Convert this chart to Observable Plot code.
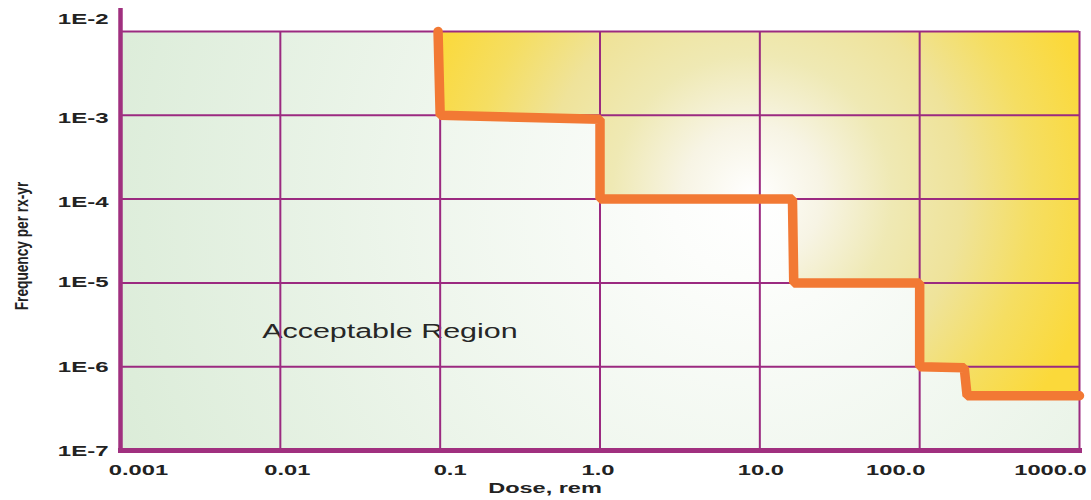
<!DOCTYPE html>
<html>
<head>
<meta charset="utf-8">
<script src="https://cdn.jsdelivr.net/npm/d3@7"></script>
<script src="https://cdn.jsdelivr.net/npm/@observablehq/plot@0.6"></script>
<style>
  html, body { margin: 0; padding: 0; background: #ffffff; }
  #chart svg { display: block; }
</style>
</head>
<body>
<div id="chart"></div>
<script>
// ---- data ----
const xTicks = [0.001, 0.01, 0.1, 1, 10, 100, 1000];
const xTickLabels = ["0.001", "0.01", "0.1", "1.0", "10.0", "100.0", "1000.0"];
const yTicks = [1e-2, 1e-3, 1e-4, 1e-5, 1e-6, 1e-7];
const yTickLabels = ["1E-2", "1E-3", "1E-4", "1E-5", "1E-6", "1E-7"];
const limitDose = [0.097, 0.1, 1.0, 1.0, 16, 16.3, 100, 100, 190, 198, 1000];
const limitFreq = [1e-2, 1e-3, 0.9e-3, 1e-4, 1e-4, 1e-5, 1e-5, 1e-6, 0.97e-6, 4.5e-7, 4.5e-7];
const regionLabels = ["Acceptable Region"];
const regionLabelDose = [0.0077];
const regionLabelFreq = [2.6e-6];
const xTitle = "Dose, rem";
const yTitle = "Frequency per rx-yr";

// ---- style ----
const purple = "#9b2a80";
const axisPurple = "#a0307f";
const orange = "#f27934";
const ink = "#222222";
const xLabelNudge = [18, 7, 10, -2, 1, -24, -29];
const yLabelNudge = [-12, 3, 3, -1, 0, 1];

const limit = limitDose.map((d, i) => ({dose: d, freq: limitFreq[i]}));

const chart = Plot.plot({
  width: 1091,
  height: 500,
  marginTop: 31,
  marginBottom: 50,
  marginLeft: 120,
  marginRight: 12,
  x: {type: "log", domain: [xTicks[0], xTicks[xTicks.length - 1]], axis: null},
  y: {type: "log", domain: [yTicks[yTicks.length - 1], yTicks[0]], axis: null},
  style: {fontFamily: "'Liberation Sans', Arial, sans-serif", background: "#ffffff", overflow: "visible"},
  marks: [
    Plot.frame({fill: "url(#gGreen)", stroke: null}),
    Plot.areaY(limit, {x: "dose", y1: "freq", y2: () => yTicks[0], fill: "url(#gYellow)"}),
    Plot.text(regionLabels, {
      x: (d, i) => regionLabelDose[i], y: (d, i) => regionLabelFreq[i], text: d => d,
      textAnchor: "start", fontSize: 19.5, fill: "#262626"
    }),
    Plot.ruleX(xTicks, {stroke: purple, strokeWidth: 2}),
    Plot.ruleY(yTicks, {stroke: purple, strokeWidth: 2}),
    Plot.ruleX([xTicks[0]], {stroke: axisPurple, strokeWidth: 4.5, insetTop: -23, insetBottom: -2}),
    Plot.ruleY([yTicks[yTicks.length - 1]], {stroke: axisPurple, strokeWidth: 5, insetLeft: -2, insetRight: -3}),
    Plot.line(limit, {x: "dose", y: "freq", stroke: orange, strokeWidth: 9.5, strokeLinejoin: "bevel"}),
    Plot.text(xTicks, {
      x: d => d, text: (d, i) => xTickLabels[i], frameAnchor: "bottom", textAnchor: "middle", dy: 24,
      fontSize: 15, fontWeight: "bold", fill: ink
    }),
    Plot.text(yTicks, {
      y: d => d, text: (d, i) => yTickLabels[i], frameAnchor: "left", textAnchor: "end", dx: -12,
      fontSize: 15, fontWeight: "bold", fill: ink
    }),
    Plot.text([xTitle], {
      text: d => d, frameAnchor: "bottom", textAnchor: "middle", dy: 42, dx: -55,
      fontSize: 14.5, fontWeight: "bold", fill: ink
    }),
    Plot.text([yTitle], {
      text: d => d, frameAnchor: "left", textAnchor: "middle", rotate: -90, dx: -98, dy: 5,
      fontSize: 18, fontWeight: "bold", fill: ink
    })
  ]
});

document.getElementById("chart").append(chart);

// gradients, centred on a point in data space
const ns = "http://www.w3.org/2000/svg";
const sx = chart.scale("x"), sy = chart.scale("y");
const cx = sx.apply(9), cy = sy.apply(1.1e-4);
const defs = document.createElementNS(ns, "defs");
function radial(id, r, stops) {
  const g = document.createElementNS(ns, "radialGradient");
  g.setAttribute("id", id);
  g.setAttribute("gradientUnits", "userSpaceOnUse");
  g.setAttribute("cx", cx); g.setAttribute("cy", cy); g.setAttribute("r", r);
  for (const [o, c] of stops) {
    const s = document.createElementNS(ns, "stop");
    s.setAttribute("offset", o); s.setAttribute("stop-color", c);
    g.append(s);
  }
  defs.append(g);
}
radial("gGreen", 680, [[0, "#ffffff"], [0.12, "#fcfdfb"], [1, "#dbecd8"]]);
radial("gYellow", 350, [[0, "#ffffff"], [0.2, "#f7f4e4"], [0.4, "#efe9b4"], [0.6, "#efe39a"], [0.8, "#f5de62"], [1, "#fbd93a"]]);
chart.insertBefore(defs, chart.firstChild);

// stretch texts to the wide / condensed lettering of the original
const stretch = new Map();
xTickLabels.forEach(t => stretch.set(t, 1.58));
yTickLabels.forEach(t => stretch.set(t, 1.6));
stretch.set(xTitle, 1.62);
stretch.set(yTitle, 0.76);
regionLabels.forEach(t => stretch.set(t, 1.56));
for (const t of chart.querySelectorAll("text")) {
  const label = t.textContent;
  const s = stretch.get(label);
  if (s) {
    const w = t.getComputedTextLength();
    t.setAttribute("textLength", (w * s).toFixed(1));
    t.setAttribute("lengthAdjust", "spacingAndGlyphs");
  }
  const xi = xTickLabels.indexOf(label);
  const yi = yTickLabels.indexOf(label);
  if (xi >= 0) t.setAttribute("transform", (t.getAttribute("transform") || "") + ` translate(${xLabelNudge[xi]},0)`);
  if (yi >= 0) t.setAttribute("transform", (t.getAttribute("transform") || "") + ` translate(0,${yLabelNudge[yi]})`);
}
</script>
</body>
</html>
